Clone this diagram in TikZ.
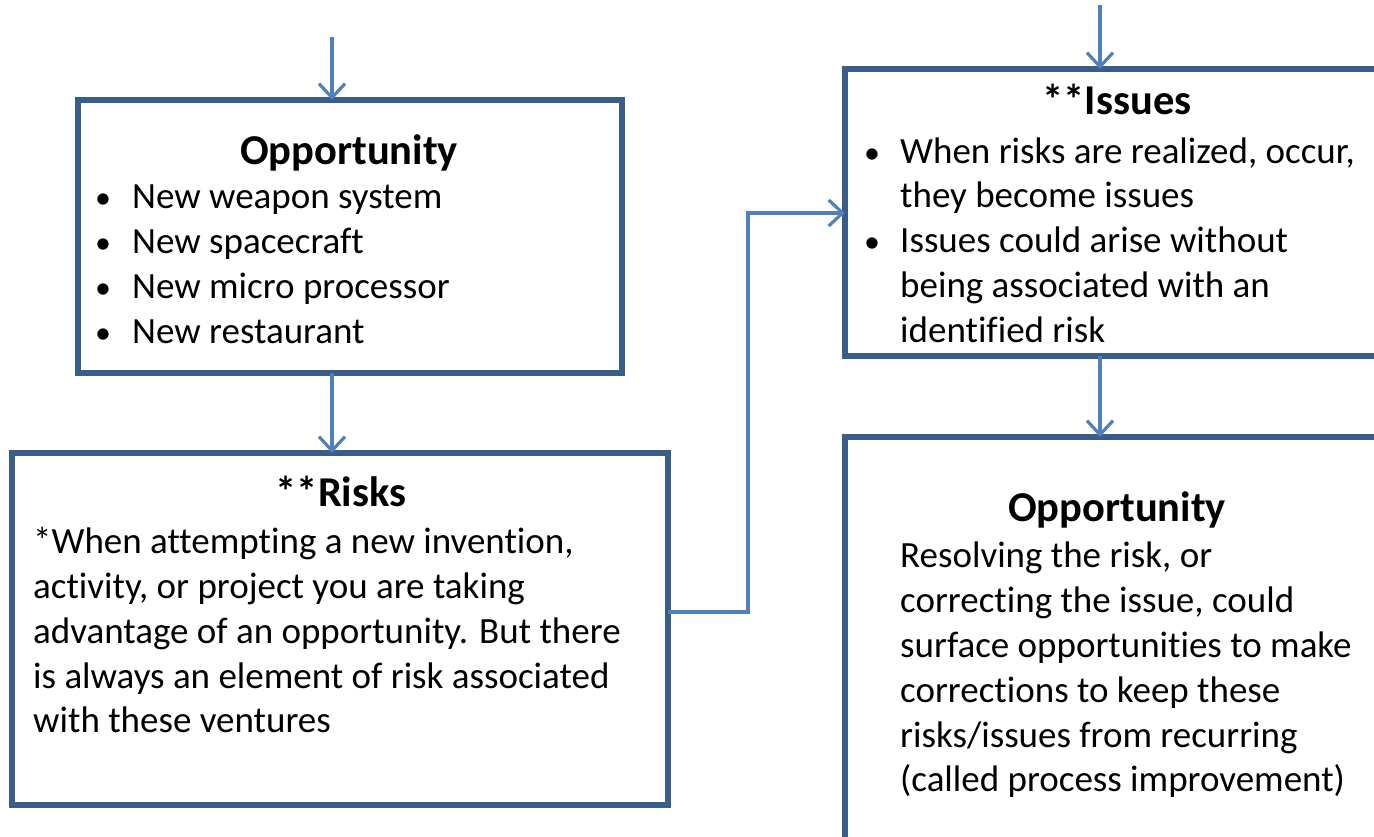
\documentclass[tikz,border=0pt]{standalone}
\usepackage{fontspec}
\setmainfont{Carlito}[Ligatures=NoCommon]
\usetikzlibrary{arrows.meta}
\definecolor{boxblue}{RGB}{56,93,138}
\definecolor{arrblue}{RGB}{79,129,189}
\begin{document}
\begin{tikzpicture}[x=1pt,y=-1pt,
  box/.style={draw=boxblue,line width=5.2pt},
  arr/.style={draw=arrblue,line width=3.2pt,-{Straight Barb[length=14pt,width=26pt]}},
  ttl/.style={anchor=base,inner sep=0,font=\fontsize{42.5}{45}\selectfont\bfseries},
  txt/.style={anchor=base west,inner sep=0,font=\fontsize{37}{45}\selectfont},
  bul/.style={anchor=base,inner sep=0,font=\fontsize{32}{45}\selectfont}]
\useasboundingbox (0,0) rectangle (1374,836);
\clip (0,0) rectangle (1374,836);
% boxes
\draw[box] (78,100) rectangle (622,373);
\draw[box] (12,453) rectangle (668,805);
\draw[box] (845,69) rectangle (1400,356);
\draw[box] (845,437) rectangle (1400,860);
\coordinate (b1t) at (332,100);
\coordinate (b1b) at (332,373);
\coordinate (b2t) at (332,453);
\coordinate (b2r) at (668,612);
\coordinate (b3l) at (845,213);
\coordinate (b3t) at (1100,69);
\coordinate (b3b) at (1100,356);
\coordinate (b4t) at (1100,437);
\coordinate (s1) at (332,37);
\coordinate (s3) at (1100,5);
% connectors
\draw[arr] (s1) -- (b1t);
\draw[arr] (b1b) -- (b2t);
\draw[arr] (b2r) -- (748,612) -- (748,213) -- (b3l);
\draw[arr] (s3) -- (b3t);
\draw[arr] (b3b) -- (b4t);
% box 1
\node[ttl] (t1) at (349,164) {Opportunity};
\foreach \y/\t [count=\i] in {208/{New weapon system},253/{New spacecraft},298/{New micro processor},343/{New restaurant}}{
  \node[bul] (o1b\i) at (103,\y) {•};
  \node[txt] (o1l\i) at (132,\y) {\t};
}
% box 2
\node[ttl] (t2) at (341,506) {**Risks};
\foreach \y/\t [count=\i] in {553/{*When attempting a new invention,},598/{activity, or project you are taking},643/{advantage of an opportunity. But there},688/{is always an element of risk associated},732/{with these ventures}}{
  \node[txt] (r2l\i) at (33,\y) {\t};
}
% box 3
\node[ttl] (t3) at (1117,114) {**Issues};
\node[bul] (i3b1) at (872,163) {•};
\node[txt] (i3l1) at (900,163) {When risks are realized, occur,};
\node[txt] (i3l2) at (900,207) {they become issues};
\node[bul] (i3b2) at (872,252) {•};
\node[txt] (i3l3) at (900,252) {Issues could arise without};
\node[txt] (i3l4) at (900,297) {being associated with an};
\node[txt] (i3l5) at (900,342) {identified risk};
% box 4
\node[ttl] (t4) at (1117,521) {Opportunity};
\foreach \y/\t [count=\i] in {567/{Resolving the risk, or},612/{correcting the issue, could},657/{surface opportunities to make},702/{corrections to keep these},747/{risks/issues from recurring},791/{(called process improvement)}}{
  \node[txt] (p4l\i) at (900,\y) {\t};
}
\end{tikzpicture}
\end{document}
